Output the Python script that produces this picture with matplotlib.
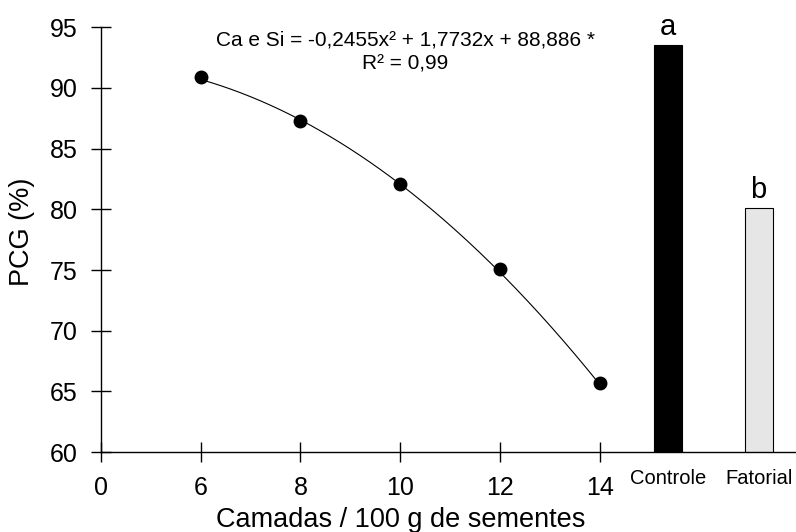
import numpy as np
import matplotlib
matplotlib.use("Agg")
import matplotlib.pyplot as plt

plt.rcParams['font.family'] = ['Liberation Sans', 'DejaVu Sans']

# dados
camadas = [6, 8, 10, 12, 14]
pcg = [90.9, 87.3, 82.1, 75.1, 65.7]
coef = [-0.2455, 1.7732, 88.886]   # Ca e Si = a x^2 + b x + c

trat = ['Controle', 'Fatorial']
trat_pos = [15.37, 17.19]
trat_val = [93.5, 80.1]
trat_letra = ['a', 'b']
trat_cor = ['black', '#e6e6e6']

xticks = [4, 6, 8, 10, 12, 14]
xticklabels = ['0', '6', '8', '10', '12', '14']

fig = plt.figure(figsize=(7.96, 5.32), dpi=100)
ax = fig.add_axes([0.127, 0.150, 0.873, 0.799])

xs = np.linspace(camadas[0], camadas[-1], 200)
ax.plot(xs, np.polyval(coef, xs), color='black', lw=0.8)
ax.plot(camadas, pcg, 'o', color='black', ms=9)

ax.bar(trat_pos, trat_val, width=0.56, bottom=0, color=trat_cor,
       edgecolor='black', linewidth=0.8)
for p, v, l in zip(trat_pos, trat_val, trat_letra):
    ax.text(p, v + 0.35, l, ha='center', va='bottom', fontsize=21)
for p, t in zip(trat_pos, trat):
    ax.text(p, 58.6, t, ha='center', va='top', fontsize=14.5)

ax.set_xlim(4, 17.94)
ax.set_ylim(60, 95)
ax.set_xticks(xticks)
ax.set_xticklabels(xticklabels)
ax.set_yticks(range(60, 96, 5))

for s in ['top', 'right']:
    ax.spines[s].set_visible(False)
ax.spines['left'].set_linewidth(1.0)
ax.spines['bottom'].set_linewidth(1.0)
ax.tick_params(axis='both', direction='inout', length=14, width=1.0,
               labelsize=18)
ax.tick_params(axis='y', pad=10)
ax.tick_params(axis='x', pad=10)

ax.text(10.1, 93.9, 'Ca e Si = -0,2455x\u00b2 + 1,7732x + 88,886 *',
        ha='center', va='center', fontsize=15)
ax.text(10.1, 91.95, 'R\u00b2 = 0,99', ha='center', va='center', fontsize=15)

fig.text(401 / 796, 1 - 527 / 532, 'Camadas / 100 g de sementes',
         ha='center', va='baseline', fontsize=19.5)
fig.text(9 / 796, 1 - 232 / 532, 'PCG (%)', rotation=90,
         ha='left', va='center', fontsize=19.5)

fig.savefig('out.png', dpi=100)
